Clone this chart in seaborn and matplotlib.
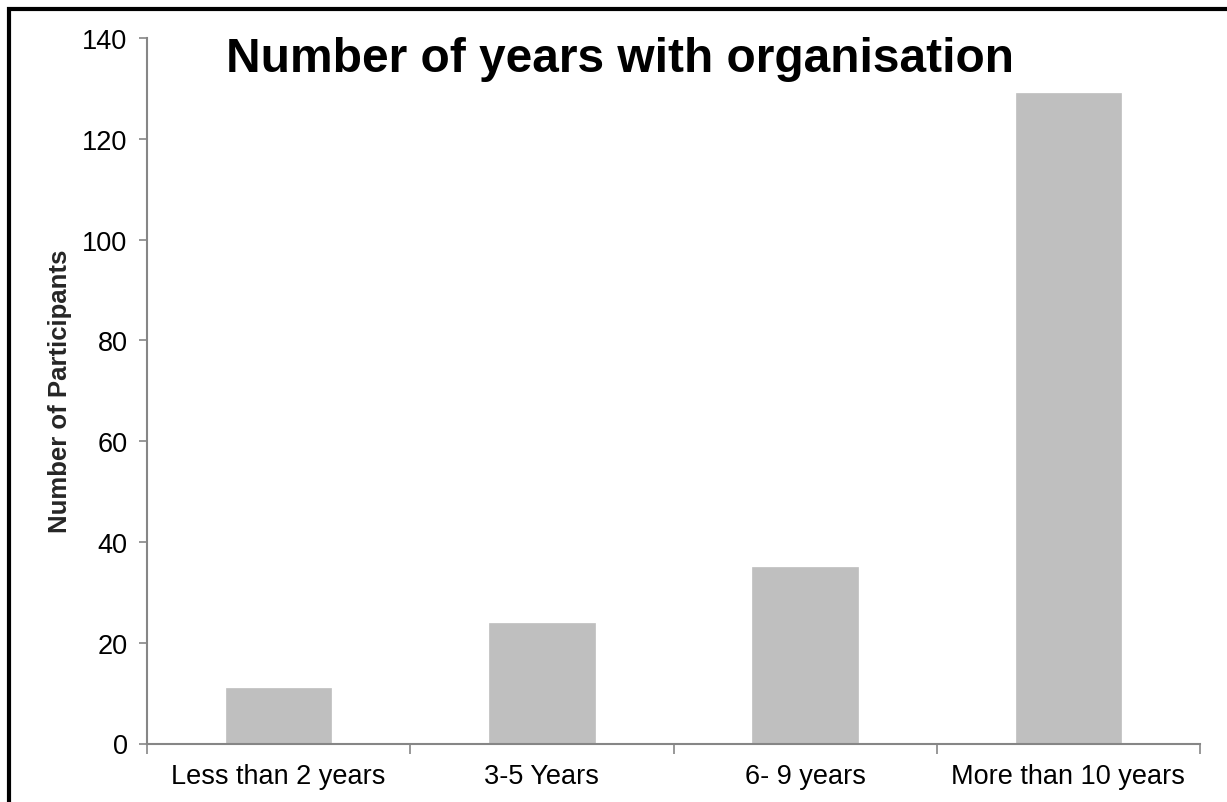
import matplotlib
matplotlib.use("Agg")
import matplotlib.pyplot as plt
import seaborn as sns
import pandas as pd
from matplotlib.patches import Rectangle

categories = ["Less than 2 years", "3-5 Years", "6- 9 years", "More than 10 years"]
values = [11, 24, 35, 129]
yticks = [0, 20, 40, 60, 80, 100, 120, 140]

sns.set_theme(style="white")
plt.rcParams['font.family'] = ['Liberation Sans', 'DejaVu Sans']

W, H = 1227, 803
fig = plt.figure(figsize=(W / 100, H / 100), dpi=100)
ax = fig.add_axes([147 / W, 1 - 744.5 / H, (1200 - 147) / W, (744.5 - 39) / H])

df = pd.DataFrame({"cat": categories, "val": values})
sns.barplot(data=df, x="cat", y="val", ax=ax, color="#BFBFBF", saturation=1,
            width=0.4, edgecolor="#BFBFBF", linewidth=0.5)

ax.set_ylim(0, 140)
ax.set_xlim(-0.5, len(categories) - 0.5)
ax.set_yticks(yticks)
ax.set_yticklabels([str(v) for v in yticks], fontsize=19.5, color="black")
ax.set_xticks(range(len(categories)))
ax.set_xticklabels(categories, fontsize=19.5, color="black")
ax.tick_params(axis="x", length=0, pad=14)
ax.tick_params(axis="y", direction="out", length=6, width=1.2, color="#868686", pad=8, left=True)
# category boundary ticks on x axis
ax.set_xticks([i - 0.5 for i in range(len(categories) + 1)], minor=True)
ax.tick_params(axis="x", which="minor", direction="out", length=7, width=1.2, color="#868686", bottom=True)

for s in ["top", "right"]:
    ax.spines[s].set_visible(False)
for s in ["left", "bottom"]:
    ax.spines[s].set_color("#868686")
    ax.spines[s].set_linewidth(1.5)

ax.set_xlabel("")
ax.set_ylabel("Number of Participants", fontsize=18.5, fontweight="bold")
ax.yaxis.set_label_coords(-0.0715, 0.5)
ax.grid(False)

fig.text(620 / W, 1 - 59 / H, "Number of years with organisation", fontsize=34.5,
         fontweight="bold", ha="center", va="center", color="black")

fig.patches.append(Rectangle((8.5 / W, -0.05), 1.1, 1 - 9.5 / H + 0.05,
                             transform=fig.transFigure, fill=False,
                             edgecolor="black", linewidth=3, clip_on=False))

fig.savefig("out.png", dpi=100, facecolor="white")
